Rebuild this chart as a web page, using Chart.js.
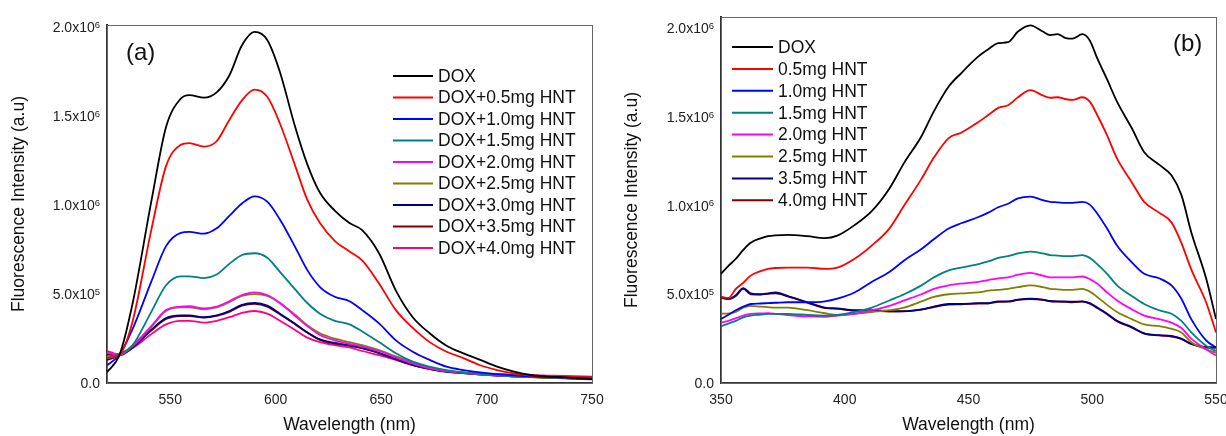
<!DOCTYPE html>
<html>
<head>
<meta charset="utf-8">
<script src="https://cdn.jsdelivr.net/npm/chart.js@4.4.1/dist/chart.umd.min.js"></script>
<style>
  html, body { margin: 0; padding: 0; background: #fff; }
  #wrap { position: relative; width: 1226px; height: 436px; overflow: hidden; background: #fff; }
  canvas { position: absolute; top: 0; }
  #chartA { left: 0; }
  #chartB { left: 605px; }
</style>
</head>
<body>
<div id="wrap">
  <canvas id="chartA" width="605" height="436"></canvas>
  <canvas id="chartB" width="621" height="436"></canvas>
</div>
<script>
// ---------- Panel (a): DOX emission with increasing HNT (520-750 nm) ----------
const wavelengthA = [520,526,532,541,548,555,559,566,572,578,584,590,596,602,609,615,621,628,635,641,649,657,665,673,681,689,697,705,713,721,729,737,750];

const a_dox   = [0.6e5,1.6e5,4.4e5,10.2e5,14.4e5,16.0e5,16.2e5,16.05e5,16.35e5,17.3e5,19.0e5,19.75e5,19.3e5,17.5e5,14.5e5,12.3e5,10.7e5,9.7e5,9.0e5,8.6e5,7.3e5,5.2e5,3.7e5,2.8e5,2.1e5,1.67e5,1.3e5,0.92e5,0.64e5,0.45e5,0.36e5,0.32e5,0.22e5];
const a_hnt05 = [1.4e5,1.6e5,3.4e5,8.6e5,12.2e5,13.4e5,13.5e5,13.3e5,13.6e5,14.8e5,15.9e5,16.5e5,16.1e5,14.6e5,12.3e5,10.3e5,9.0e5,8.0e5,7.4e5,6.9e5,5.6e5,4.1e5,3.1e5,2.3e5,1.76e5,1.4e5,1.0e5,0.73e5,0.54e5,0.41e5,0.36e5,0.34e5,0.33e5];
const a_hnt10 = [1.0e5,1.6e5,3.0e5,5.7e5,7.7e5,8.45e5,8.5e5,8.4e5,8.7e5,9.4e5,10.1e5,10.5e5,10.2e5,9.2e5,7.7e5,6.35e5,5.4e5,4.85e5,4.6e5,4.1e5,3.35e5,2.4e5,1.76e5,1.3e5,0.92e5,0.73e5,0.6e5,0.5e5,0.43e5,0.38e5,0.34e5,0.32e5,0.3e5];
const a_hnt15 = [1.4e5,1.65e5,2.1e5,4.0e5,5.5e5,6.0e5,6.0e5,5.9e5,6.1e5,6.7e5,7.2e5,7.3e5,7.05e5,6.25e5,5.3e5,4.5e5,3.9e5,3.5e5,3.3e5,2.9e5,2.3e5,1.67e5,1.2e5,0.92e5,0.73e5,0.6e5,0.5e5,0.43e5,0.38e5,0.35e5,0.32e5,0.3e5,0.28e5];
const a_hnt20 = [1.7e5,1.6e5,2.1e5,3.2e5,4.1e5,4.3e5,4.32e5,4.2e5,4.3e5,4.6e5,4.95e5,5.1e5,4.95e5,4.5e5,3.8e5,3.2e5,2.7e5,2.4e5,2.2e5,2.05e5,1.8e5,1.45e5,1.1e5,0.82e5,0.67e5,0.58e5,0.49e5,0.42e5,0.38e5,0.35e5,0.33e5,0.32e5,0.32e5];
const a_hnt25 = [1.45e5,1.55e5,2.05e5,3.15e5,4.05e5,4.25e5,4.25e5,4.15e5,4.25e5,4.55e5,4.9e5,5.0e5,4.9e5,4.5e5,3.85e5,3.25e5,2.8e5,2.5e5,2.3e5,2.13e5,1.85e5,1.5e5,1.15e5,0.85e5,0.67e5,0.58e5,0.5e5,0.43e5,0.37e5,0.33e5,0.3e5,0.28e5,0.26e5];
const a_hnt30 = [1.3e5,1.55e5,2.0e5,3.0e5,3.65e5,3.8e5,3.8e5,3.7e5,3.8e5,4.05e5,4.4e5,4.5e5,4.35e5,3.9e5,3.35e5,2.85e5,2.45e5,2.25e5,2.12e5,1.98e5,1.7e5,1.35e5,1.02e5,0.8e5,0.64e5,0.56e5,0.48e5,0.42e5,0.38e5,0.34e5,0.3e5,0.27e5,0.2e5];
const a_hnt35 = [1.6e5,1.55e5,1.98e5,2.95e5,3.6e5,3.77e5,3.77e5,3.68e5,3.77e5,4.0e5,4.35e5,4.45e5,4.3e5,3.87e5,3.32e5,2.83e5,2.43e5,2.22e5,2.1e5,1.95e5,1.68e5,1.33e5,1.0e5,0.78e5,0.63e5,0.55e5,0.47e5,0.41e5,0.37e5,0.33e5,0.29e5,0.26e5,0.22e5];
const a_hnt40 = [1.8e5,1.6e5,1.95e5,2.75e5,3.3e5,3.5e5,3.5e5,3.4e5,3.5e5,3.7e5,3.95e5,4.05e5,3.9e5,3.5e5,3.0e5,2.55e5,2.3e5,2.13e5,2.0e5,1.8e5,1.57e5,1.3e5,1.0e5,0.8e5,0.67e5,0.58e5,0.54e5,0.5e5,0.47e5,0.44e5,0.42e5,0.4e5,0.36e5];

const labelsA = ['DOX','DOX+0.5mg HNT','DOX+1.0mg HNT','DOX+1.5mg HNT','DOX+2.0mg HNT','DOX+2.5mg HNT','DOX+3.0mg HNT','DOX+3.5mg HNT','DOX+4.0mg HNT'];
const colorsA = ['#000000','#ff0000','#0000ff','#008080','#ff00ff','#808000','#000080','#800000','#ff0080'];
const seriesA = [a_dox,a_hnt05,a_hnt10,a_hnt15,a_hnt20,a_hnt25,a_hnt30,a_hnt35,a_hnt40];

// ---------- Panel (b): 350-550 nm ----------
const wavelengthB = [350,353,356,359,362,366,369,372,377,385,392,397,404,411,418,424,431,436,442,447,454,458,462,466,470,475,480,483,486,489,492,496,499,502,506,510,516,521,527,532,536,540,546,550];

const b_dox   = [6.15e5,6.6e5,7.0e5,7.5e5,7.9e5,8.15e5,8.27e5,8.32e5,8.35e5,8.27e5,8.16e5,8.3e5,8.9e5,9.7e5,10.95e5,12.4e5,13.9e5,15.3e5,16.7e5,17.45e5,18.4e5,18.8e5,19.15e5,19.2e5,19.8e5,20.15e5,19.8e5,19.6e5,19.65e5,19.45e5,19.4e5,19.65e5,19.3e5,18.3e5,17.1e5,15.85e5,14.35e5,13.0e5,12.3e5,11.7e5,10.6e5,8.5e5,5.9e5,3.6e5];
const b_hnt05 = [4.85e5,4.8e5,5.3e5,5.65e5,6.05e5,6.3e5,6.43e5,6.48e5,6.5e5,6.5e5,6.43e5,6.5e5,7.0e5,7.75e5,8.7e5,10.0e5,11.5e5,12.7e5,13.8e5,14.1e5,14.7e5,15.1e5,15.5e5,15.65e5,16.1e5,16.5e5,16.2e5,16.07e5,16.1e5,16.0e5,15.95e5,16.1e5,15.85e5,15.1e5,13.95e5,12.65e5,11.3e5,10.2e5,9.6e5,9.05e5,7.9e5,6.4e5,4.55e5,2.85e5];
const b_hnt10 = [3.6e5,3.85e5,4.1e5,4.3e5,4.45e5,4.48e5,4.5e5,4.52e5,4.55e5,4.55e5,4.6e5,4.75e5,5.1e5,5.7e5,6.25e5,6.9e5,7.55e5,8.1e5,8.7e5,9.0e5,9.35e5,9.6e5,9.9e5,10.1e5,10.4e5,10.5e5,10.3e5,10.2e5,10.18e5,10.15e5,10.15e5,10.2e5,10.05e5,9.55e5,8.7e5,7.75e5,6.8e5,6.15e5,5.9e5,5.5e5,4.75e5,3.6e5,2.4e5,2.0e5];
const b_hnt15 = [3.2e5,3.35e5,3.5e5,3.7e5,3.8e5,3.85e5,3.9e5,3.9e5,3.9e5,3.83e5,3.8e5,3.83e5,4.0e5,4.25e5,4.65e5,5.0e5,5.5e5,5.95e5,6.35e5,6.5e5,6.7e5,6.85e5,7.05e5,7.15e5,7.3e5,7.4e5,7.3e5,7.2e5,7.18e5,7.15e5,7.15e5,7.2e5,7.05e5,6.7e5,6.15e5,5.5e5,4.9e5,4.45e5,4.1e5,3.9e5,3.5e5,2.85e5,2.1e5,1.8e5];
const b_hnt20 = [3.4e5,3.5e5,3.65e5,3.8e5,3.9e5,3.92e5,3.93e5,3.9e5,3.83e5,3.75e5,3.73e5,3.8e5,3.9e5,4.1e5,4.35e5,4.65e5,5.0e5,5.3e5,5.5e5,5.6e5,5.7e5,5.8e5,5.9e5,5.95e5,6.1e5,6.2e5,6.05e5,5.95e5,5.95e5,5.95e5,5.95e5,6.0e5,5.85e5,5.6e5,5.1e5,4.65e5,4.15e5,3.8e5,3.6e5,3.4e5,3.1e5,2.5e5,1.9e5,1.55e5];
const b_hnt25 = [3.9e5,3.92e5,4.0e5,4.25e5,4.35e5,4.3e5,4.27e5,4.25e5,4.25e5,4.1e5,3.93e5,3.83e5,3.9e5,4.0e5,4.1e5,4.25e5,4.6e5,4.85e5,5.0e5,5.05e5,5.1e5,5.2e5,5.25e5,5.3e5,5.4e5,5.5e5,5.4e5,5.3e5,5.28e5,5.25e5,5.25e5,5.3e5,5.15e5,4.85e5,4.4e5,4.0e5,3.6e5,3.3e5,3.2e5,3.05e5,2.85e5,2.3e5,1.9e5,1.7e5];
const b_hnt35 = [4.85e5,4.75e5,4.95e5,5.35e5,5.05e5,5.0e5,5.05e5,5.1e5,4.9e5,4.55e5,4.25e5,4.2e5,4.1e5,4.1e5,4.05e5,4.05e5,4.15e5,4.3e5,4.45e5,4.45e5,4.5e5,4.5e5,4.6e5,4.6e5,4.7e5,4.75e5,4.7e5,4.62e5,4.6e5,4.6e5,4.58e5,4.6e5,4.5e5,4.25e5,3.9e5,3.5e5,3.15e5,2.8e5,2.7e5,2.65e5,2.5e5,2.2e5,2.0e5,2.0e5];
const b_hnt40 = [4.8e5,4.72e5,4.9e5,5.3e5,5.0e5,4.98e5,5.02e5,5.05e5,4.88e5,4.52e5,4.22e5,4.18e5,4.08e5,4.07e5,4.02e5,4.03e5,4.13e5,4.28e5,4.42e5,4.43e5,4.48e5,4.48e5,4.57e5,4.58e5,4.68e5,4.73e5,4.68e5,4.6e5,4.58e5,4.57e5,4.55e5,4.58e5,4.47e5,4.22e5,3.88e5,3.48e5,3.12e5,2.78e5,2.68e5,2.62e5,2.48e5,2.2e5,2.02e5,2.0e5];

const labelsB = ['DOX','0.5mg HNT','1.0mg HNT','1.5mg HNT','2.0mg HNT','2.5mg HNT','3.5mg HNT','4.0mg HNT'];
const colorsB = ['#000000','#ff0000','#0000ff','#008080','#ff00ff','#808000','#000080','#800000'];
const seriesB = [b_dox,b_hnt05,b_hnt10,b_hnt15,b_hnt20,b_hnt25,b_hnt35,b_hnt40];

// Shared axis text
const yTicks = [0, 5e5, 10e5, 15e5, 20e5];
const xTitle = 'Wavelength (nm)';
const yTitle = 'Fluorescence Intensity (a.u)';

const FONT = '"Liberation Sans", Arial, Helvetica, sans-serif';

// Splits a tick value into mantissa text and exponent ("2.0x10", "6")
function sciParts(v) {
  if (v === 0) return ['0.0', ''];
  const e = Math.floor(Math.log10(v) + 1e-9);
  return [(v / Math.pow(10, e)).toFixed(1) + 'x10', String(e)];
}

// Y tick labels in scientific notation with a raised exponent
const sciTicks = {
  id: 'sciTicks',
  afterDraw(chart) {
    const s = chart.scales.y, ctx = chart.ctx;
    const right = s.right - 7;
    ctx.save();
    ctx.fillStyle = '#222';
    ctx.textAlign = 'right';
    ctx.textBaseline = 'alphabetic';
    yTicks.forEach(v => {
      const y = s.getPixelForValue(v);
      const [base, exp] = sciParts(v);
      let ew = 0;
      if (exp) {
        ctx.font = '9.5px ' + FONT;
        ew = ctx.measureText(exp).width;
        ctx.fillText(exp, right, y + 0.8);
      }
      ctx.font = '14px ' + FONT;
      ctx.fillText(base, right - ew, y + 5);
    });
    ctx.restore();
  }
};

// Legend drawn inside the plotting area
const innerLegend = {
  id: 'innerLegend',
  afterDatasetsDraw(chart, args, o) {
    const ctx = chart.ctx;
    ctx.save();
    ctx.font = o.fontSize + 'px ' + FONT;
    ctx.textBaseline = 'middle';
    ctx.textAlign = 'left';
    chart.data.datasets.forEach((ds, i) => {
      const y = o.y + i * o.rowGap;
      ctx.strokeStyle = ds.borderColor;
      ctx.lineWidth = 2;
      ctx.beginPath();
      ctx.moveTo(o.x, y);
      ctx.lineTo(o.x + o.lineLen, y);
      ctx.stroke();
      ctx.fillStyle = '#111';
      ctx.fillText(ds.label, o.x + o.lineLen + o.gap, y + 1);
    });
    ctx.restore();
  }
};

// Thin frame around the plot plus the panel tag
const frameAndTag = {
  id: 'frameAndTag',
  beforeDatasetsDraw(chart) {
    const { ctx, chartArea: a } = chart;
    ctx.save();
    ctx.strokeStyle = '#666';
    ctx.lineWidth = 1;
    ctx.strokeRect(a.left + 0.5, a.top + 0.5, a.right - a.left, a.bottom - a.top);
    ctx.restore();
  },
  afterDraw(chart, args, o) {
    const ctx = chart.ctx;
    ctx.save();
    ctx.font = o.fontSize + 'px ' + FONT;
    ctx.fillStyle = '#111';
    ctx.textBaseline = 'middle';
    ctx.textAlign = 'left';
    ctx.fillText(o.text, o.x, o.y);
    ctx.restore();
  }
};

function makeChart(canvasId, xs, series, labels, colors, cfg) {
  return new Chart(document.getElementById(canvasId), {
    type: 'line',
    data: {
      datasets: series.map((vals, i) => ({
        label: labels[i],
        data: vals.map((v, k) => ({ x: xs[k], y: v })),
        borderColor: colors[i],
        backgroundColor: colors[i],
        borderWidth: 1.8,
        pointRadius: 0,
        fill: false,
        cubicInterpolationMode: 'monotone'
      }))
    },
    options: {
      responsive: false,
      animation: false,
      devicePixelRatio: 1,
      layout: { padding: cfg.padding },
      plugins: {
        legend: { display: false },
        tooltip: { enabled: false },
        innerLegend: cfg.legend,
        frameAndTag: cfg.tag
      },
      scales: {
        x: {
          type: 'linear',
          min: cfg.xMin,
          max: cfg.xMax,
          grid: { display: false, drawTicks: false },
          border: { display: true, color: '#333', width: 2 },
          ticks: {
            stepSize: 50,
            padding: 9,
            color: '#222',
            font: { family: FONT, size: 14 },
            maxRotation: 0,
            callback: v => String(v)
          },
          afterBuildTicks: s => { s.ticks = s.ticks.filter(t => t.value % 50 === 0); },
          afterFit: s => { s.height = cfg.xAxisHeight; s.paddingLeft = 0; s.paddingRight = 0; },
          title: {
            display: true,
            text: xTitle,
            color: '#111',
            padding: { top: 0, bottom: 0 },
            font: { family: FONT, size: 17.5 }
          }
        },
        y: {
          min: 0,
          max: cfg.yMax,
          grid: { display: false, drawTicks: false },
          border: { display: true, color: '#333', width: 2 },
          afterBuildTicks: s => { s.ticks = yTicks.map(v => ({ value: v })); },
          afterFit: s => { s.width = cfg.yAxisWidth; s.paddingTop = 0; s.paddingBottom = 0; },
          ticks: { display: false },
          title: {
            display: true,
            text: yTitle,
            color: '#111',
            padding: { top: 0, bottom: 0 },
            font: { family: FONT, size: 17.5 }
          }
        }
      }
    },
    plugins: [frameAndTag, innerLegend, sciTicks]
  });
}

makeChart('chartA', wavelengthA, seriesA, labelsA, colorsA, {
  xMin: 520, xMax: 750, yMax: 2.014e6,
  padding: { left: 9, top: 25, right: 13, bottom: 0 },
  yAxisWidth: 98, xAxisHeight: 53,
  legend: { x: 393, y: 76, rowGap: 21.5, lineLen: 40, gap: 5, fontSize: 17.5 },
  tag: { text: '(a)', x: 126, y: 53, fontSize: 24 }
});

makeChart('chartB', wavelengthB, seriesB, labelsB, colorsB, {
  xMin: 350, xMax: 550, yMax: 2.062e6,
  padding: { left: 17, top: 17, right: 10, bottom: 0 },
  yAxisWidth: 99, xAxisHeight: 53,
  legend: { x: 127, y: 47, rowGap: 21.9, lineLen: 41, gap: 5, fontSize: 17.5 },
  tag: { text: '(b)', x: 568, y: 44, fontSize: 24 }
});
</script>
</body>
</html>
